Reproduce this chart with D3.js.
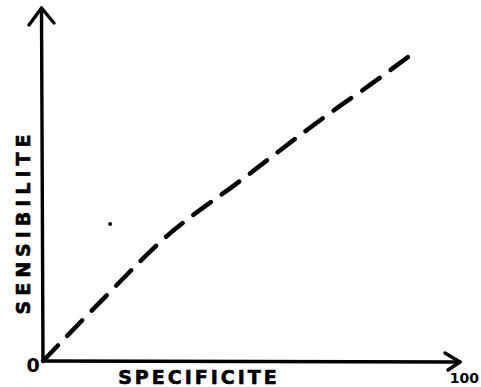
<!DOCTYPE html>
<html>
<head>
<meta charset="utf-8">
<script src="https://cdn.jsdelivr.net/npm/d3@7"></script>
<style>
  html, body { margin: 0; padding: 0; background: #fff; }
  svg { display: block; }
</style>
</head>
<body>
<script>
// ---- data ----
const curveX = [0, 15.1, 30.3, 47.6, 61.1, 69.5, 78.4, 87.5];
const curveY = [0, 18.4, 36.0, 51.3, 63.5, 70.8, 78.2, 86.1];
const dotPoint = [16.1, 38.8];
const xLabel = "SPECIFICITE";
const yLabel = "SENSIBILITE";
const originLabel = "0";
const xMaxLabel = "100";

// ---- layout ----
const W = 481, H = 387;
const svg = d3.select("body").append("svg").attr("width", W).attr("height", H);

const x = d3.scaleLinear().domain([0, 100]).range([43, 460]);
const y = d3.scaleLinear().domain([0, 100]).range([361, 8]);

const ink = "#000";

// axes
svg.append("line")
  .attr("x1", x(0)).attr("y1", y(0)).attr("x2", x(0) - 1.5).attr("y2", y(100))
  .attr("stroke", ink).attr("stroke-width", 3.4).attr("stroke-linecap", "round");
svg.append("line")
  .attr("x1", x(0)).attr("y1", y(0)).attr("x2", x(100)).attr("y2", y(0) + 1)
  .attr("stroke", ink).attr("stroke-width", 3.4).attr("stroke-linecap", "round");

// arrowheads
svg.append("path")
  .attr("d", `M${x(0) - 14},${y(100) + 17} L${x(0) - 1.5},${y(100)} L${x(0) + 11},${y(100) + 15}`)
  .attr("fill", "none").attr("stroke", ink).attr("stroke-width", 3.4)
  .attr("stroke-linecap", "round").attr("stroke-linejoin", "round");
svg.append("path")
  .attr("d", `M${x(100) - 15},${y(0) - 8} L${x(100)},${y(0) + 1} L${x(100) - 12},${y(0) + 9}`)
  .attr("fill", "none").attr("stroke", ink).attr("stroke-width", 3.4)
  .attr("stroke-linecap", "round").attr("stroke-linejoin", "round");

// dashed curve
const pts = curveX.map((d, i) => [d, curveY[i]]);
const line = d3.line().x(d => x(d[0])).y(d => y(d[1])).curve(d3.curveCatmullRom.alpha(0.5));
const curvePath = svg.append("path")
  .datum(pts)
  .attr("d", line)
  .attr("fill", "none")
  .attr("stroke", ink)
  .attr("stroke-width", 4.5)
  .attr("stroke-linecap", "round");
const L = curvePath.node().getTotalLength();
const nDash = 14;
const unit = L / (nDash * 21 + (nDash - 1) * 13);
curvePath.attr("stroke-dasharray", `${21 * unit},${13 * unit}`);

// stray dot
svg.append("circle")
  .attr("cx", x(dotPoint[0])).attr("cy", y(dotPoint[1])).attr("r", 2)
  .attr("fill", ink);

// labels
const font = "'DejaVu Sans', sans-serif";
svg.append("text")
  .attr("x", 199).attr("y", 384)
  .attr("text-anchor", "middle")
  .attr("font-family", font).attr("font-weight", "bold")
  .attr("font-size", 19).attr("letter-spacing", 3)
  .attr("fill", ink).attr("stroke", ink).attr("stroke-width", 0.6)
  .text(xLabel);

svg.append("text")
  .attr("transform", "translate(30,222) rotate(-90)")
  .attr("text-anchor", "middle")
  .attr("font-family", font).attr("font-weight", "bold")
  .attr("font-size", 19).attr("letter-spacing", 5)
  .attr("fill", ink).attr("stroke", ink).attr("stroke-width", 0.6)
  .text(yLabel);

svg.append("text")
  .attr("x", 33).attr("y", 372)
  .attr("text-anchor", "middle")
  .attr("font-family", font).attr("font-weight", "bold")
  .attr("font-size", 19)
  .attr("fill", ink)
  .text(originLabel);

svg.append("text")
  .attr("x", 479).attr("y", 383)
  .attr("text-anchor", "end")
  .attr("font-family", font)
  .attr("font-weight", "bold")
  .attr("font-size", 14)
  .attr("fill", ink)
  .text(xMaxLabel);
</script>
</body>
</html>
